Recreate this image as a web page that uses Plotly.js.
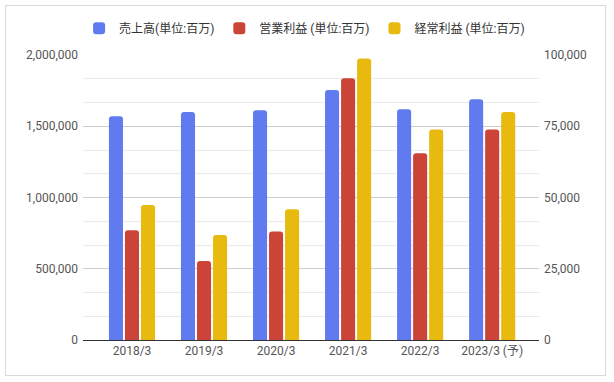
<!DOCTYPE html>
<html>
<head>
<meta charset="utf-8">
<script src="https://cdn.plot.ly/plotly-3.0.1.min.js"></script>
<style>
  html, body { margin: 0; padding: 0; background: #fff; }
  #wrap { position: relative; width: 614px; height: 382px; }
  #chart { width: 614px; height: 382px; }
  #frame { position: absolute; left: 5px; top: 5px; width: 601px; height: 371px; border: 1px solid #d9d9d9; pointer-events: none; box-sizing: border-box; }
</style>
</head>
<body>
<div id="wrap"><div id="chart"></div><div id="frame"></div></div>
<script>
const categories = ['2018/3', '2019/3', '2020/3', '2021/3', '2022/3', '2023/3 (予)'];
const salesName = '売上高(単位:百万)';
const opName = '営業利益 (単位:百万)';
const ordName = '経常利益 (単位:百万)';
const sales = [1570000, 1600000, 1612000, 1754000, 1619000, 1689000];
const operatingProfit = [38500, 27700, 38100, 91800, 65500, 73900];
const ordinaryProfit = [47400, 36800, 45900, 98800, 73900, 80000];
const leftTicks = [0, 500000, 1000000, 1500000, 2000000];
const rightTicks = [0, 25000, 50000, 75000, 100000];

const font = { family: 'Roboto, "Noto Sans CJK JP", sans-serif', size: 12, color: '#555' };
const w = 0.195;

const traces = [
  { type: 'bar', name: salesName, x: categories, y: sales, yaxis: 'y',
    width: w, offset: -0.32, marker: { color: '#5f7bef', cornerradius: 3 }, hoverinfo: 'skip' },
  { type: 'bar', name: opName, x: categories, y: operatingProfit, yaxis: 'y2',
    width: w, offset: -0.0975, marker: { color: '#cc4337', cornerradius: 3 }, hoverinfo: 'skip' },
  { type: 'bar', name: ordName, x: categories, y: ordinaryProfit, yaxis: 'y2',
    width: w, offset: 0.125, marker: { color: '#e8b90e', cornerradius: 3 }, hoverinfo: 'skip' }
];

const layout = {
  width: 614, height: 382,
  margin: { l: 83, r: 75, t: 55, b: 42, pad: 0, autoexpand: false },
  paper_bgcolor: '#fff', plot_bgcolor: '#fff',
  font: font,
  showlegend: true,
  legend: { orientation: 'h', x: 0.486, xanchor: 'center', y: 1.094, yanchor: 'middle',
            font: { family: font.family, size: 12, color: '#333' }, itemwidth: 30,
            traceorder: 'normal' },
  xaxis: { type: 'category', range: [-0.68, 5.65], showgrid: false, showline: true,
           linecolor: '#333', linewidth: 1, ticks: '', tickfont: font, fixedrange: true },
  yaxis: { range: [0, 2000000], tickvals: leftTicks, tickformat: ',d', showgrid: true,
           gridcolor: '#cccccc', zeroline: false, ticks: '', tickfont: font, ticklabelstandoff: 4,
           minor: { dtick: 500000 / 3, showgrid: true, gridcolor: '#ebebeb' } },
  yaxis2: { range: [0, 100000], tickvals: rightTicks, tickformat: ',d', overlaying: 'y', side: 'right',
            showgrid: false, zeroline: false, ticks: '', tickfont: font, ticklabelstandoff: 4 },
  bargap: 0.33
};

Plotly.newPlot('chart', traces, layout, { staticPlot: true, displayModeBar: false });
</script>
</body>
</html>
